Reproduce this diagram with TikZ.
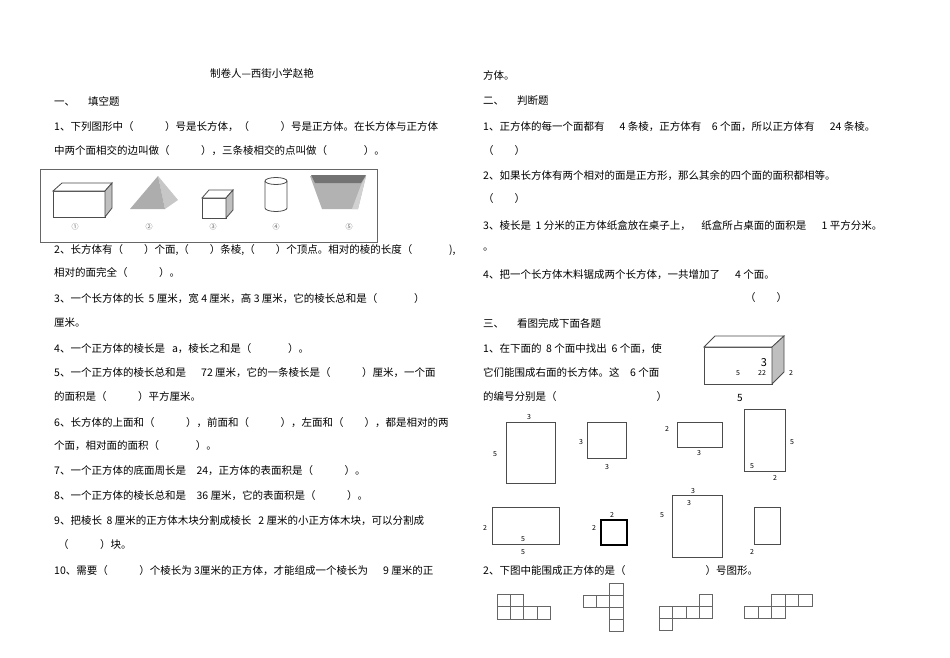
\documentclass[tikz,border=0pt]{standalone}
\usepackage{fontspec}
\setmainfont{Noto Sans CJK SC}
\newcommand\pq[1]{（\hspace{#1em}）}
\begin{document}
\begin{tikzpicture}[x=1pt,y=-1pt,
  txt/.style={anchor=west,inner sep=0pt,font=\fontsize{10.5}{12}\selectfont},
  lab/.style={inner sep=0pt,font=\fontsize{7}{8}\selectfont},
  num/.style={inner sep=0pt,font=\fontsize{7}{8}\selectfont,text=black!60},
  face/.style={draw=black!70,line width=0.8pt,fill=white},
  cell/.style={draw=black!60,line width=0.7pt}]
\useasboundingbox (0,0) rectangle (950,658);
\fill[white] (0,0) rectangle (950,658);
% left column
\node[inner sep=0pt,font=\fontsize{10.5}{12}\selectfont] (title) at (262,73) {制卷人—西街小学赵艳};
\node[txt] (a0) at (54,101) {一、\quad\ 填空题};
\node[txt] (a1) at (54,127) {1、下列图形中\pq{3}号是长方体，\pq{3}号是正方体。在长方体与正方体};
\node[txt] (a2) at (54,151) {中两个面相交的边叫做\pq{3}，三条棱相交的点叫做\pq{3.5}。};
\draw[black!60,line width=0.8pt] (40,169) rectangle (377,242);
% shape 1
\draw[face] (53,191) rectangle (105,217);
\draw[face] (53,191) -- (62,183) -- (112,183) -- (105,191) -- cycle;
\draw[face,fill=black!25] (105,191) -- (112,183) -- (112,208) -- (105,217) -- cycle;
% shape 2
\fill[black!22] (158,176) -- (178,200) -- (165,209) -- cycle;
\fill[black!32] (130,209) -- (158,176) -- (165,209) -- cycle;
% shape 3
\draw[face] (202,198) rectangle (226,218);
\draw[face] (202,198) -- (209,190) -- (233,190) -- (226,198) -- cycle;
\draw[face,fill=black!25] (226,198) -- (233,190) -- (233,210) -- (226,218) -- cycle;
% shape 4
\draw[black!70,line width=0.8pt,fill=white] (265,181) -- (265,208) arc[start angle=180,end angle=0,x radius=11,y radius=3.5] -- (287,181);
\draw[black!70,line width=0.8pt] (276,181) ellipse[x radius=11,y radius=3.5];
% shape 5
\fill[black!30] (310,176) -- (366,176) -- (358,209) -- (322,209) -- cycle;
\fill[black!18] (361,185) -- (366,176) -- (358,209) -- (352,209) -- cycle;
\fill[black!55] (311,175) -- (366,175) -- (361,183) -- (315,183) -- cycle;
\node[num] (c1) at (75,227) {①};
\node[num] (c2) at (149,227) {②};
\node[num] (c3) at (213,227) {③};
\node[num] (c4) at (276,227) {④};
\node[num] (c5) at (349,227) {⑤};
\node[txt] (a3) at (54,250) {2、长方体有\pq{2}个面,\pq{2}条棱,\pq{2}个顶点。相对的棱的长度（\hspace{3.5em}),};
\node[txt] (a4) at (54,273) {相对的面完全\pq{3}。};
\node[txt] (a5) at (54,299) {3、一个长方体的长\ \ 5 厘米，宽\ 4 厘米，高\ 3 厘米，它的棱长总和是\pq{3.5}};
\node[txt] (a6) at (54,323) {厘米。};
\node[txt] (a7) at (54,349) {4、一个正方体的棱长是\ \ \ a，棱长之和是\pq{3.5}。};
\node[txt] (a8) at (54,373) {5、一个正方体的棱长总和是\quad\ \ 72 厘米，它的一条棱长是\pq{3}厘米，一个面};
\node[txt] (a9) at (54,397) {的面积是\pq{3}平方厘米。};
\node[txt] (a10) at (54,423) {6、长方体的上面和\pq{3}，前面和\pq{3}，左面和\pq{2}，都是相对的两};
\node[txt] (a11) at (54,446) {个面，相对面的面积\pq{3.5}。};
\node[txt] (a12) at (54,471) {7、一个正方体的底面周长是\quad 24，正方体的表面积是\pq{3}。};
\node[txt] (a13) at (54,496) {8、一个正方体的棱长总和是\quad 36 厘米，它的表面积是\pq{3}。};
\node[txt] (a14) at (54,521) {9、把棱长\ \ 8 厘米的正方体木块分割成棱长\ \ \ 2 厘米的小正方体木块，可以分割成};
\node[txt] (a15) at (58,545) {\pq{3}块。};
\node[txt] (a16) at (54,571) {10、需要\pq{3}个棱长为\ 3厘米的正方体，才能组成一个棱长为\quad\ \ 9 厘米的正};
% right column
\node[txt] (b0) at (483,75) {方体。};
\node[txt] (b1) at (483,101) {二、\quad\ 判断题};
\node[txt] (b2) at (483,127) {1、正方体的每一个面都有\quad\ \ 4 条棱，正方体有\quad 6 个面，所以正方体有\quad\ \ 24 条棱。};
\node[txt] (b3) at (483,151) {\pq{2}};
\node[txt] (b4) at (483,176) {2、如果长方体有两个相对的面是正方形，那么其余的四个面的面积都相等。};
\node[txt] (b5) at (483,199) {\pq{2}};
\node[txt] (b6) at (483,226) {3、棱长是\ \ 1 分米的正方体纸盒放在桌子上，\quad 纸盒所占桌面的面积是\quad\ \ 1 平方分米。};
\node[txt] (b7) at (483,250) {。};
\node[txt] (b8) at (483,275) {4、把一个长方体木料锯成两个长方体，一共增加了\quad\ \ 4 个面。};
\node[txt] (b9) at (745,298) {\pq{2}};
\node[txt] (b10) at (483,323) {三、\quad\ 看图完成下面各题};
\node[txt] (b11) at (483,349) {1、在下面的\ \ 8 个面中找出\ \ 6 个面，使};
\node[txt] (b12) at (483,373) {它们能围成右面的长方体。这\quad 6 个面};
\node[txt] (b13) at (483,397) {的编号分别是（\hspace{100pt}）};
\node[txt] (b14) at (483,571) {2、下图中能围成正方体的是（\hspace{80pt}）号图形。};
% cuboid
\draw[face] (704,347) rectangle (772,384);
\draw[face] (704,347) -- (715,336) -- (784,336) -- (772,347) -- cycle;
\draw[face,fill=black!25] (772,347) -- (784,336) -- (784,372) -- (772,384) -- cycle;
\node[inner sep=0pt,font=\fontsize{11}{12}\selectfont] (q3) at (764,363) {3};
\node[lab] (q5) at (738,373) {5};
\node[lab] (q22) at (762,373) {22};
\node[lab] (q2) at (791,373) {2};
\node[inner sep=0pt,font=\fontsize{10}{12}\selectfont] (q5b) at (740,398) {5};
% rectangles
\draw[face] (506,422) rectangle (555,483);
\node[lab] (r1a) at (529,417) {3}; \node[lab] (r1b) at (495,454) {5};
\draw[face] (587,422) rectangle (626,458);
\node[lab] (r2a) at (581,442) {3}; \node[lab] (r2b) at (607,467) {3};
\draw[face] (677,422) rectangle (722,447);
\node[lab] (r3a) at (667,429) {2}; \node[lab] (r3b) at (699,453) {3};
\draw[face] (744,409) rectangle (785,471);
\node[lab] (r4a) at (792,442) {5}; \node[lab] (r4b) at (752,466) {5}; \node[lab] (r4c) at (775,478) {2};
\draw[face] (492,507) rectangle (559,544);
\node[lab] (r5a) at (485,528) {2}; \node[lab] (r5b) at (523,539) {5}; \node[lab] (r5c) at (523,552) {5};
\draw[face,line width=1.1pt,draw=black] (601,520) rectangle (627,545);
\node[lab] (r6a) at (612,515) {2}; \node[lab] (r6b) at (594,528) {2};
\draw[face] (672,495) rectangle (722,557);
\node[lab] (r7a) at (693,491) {3}; \node[lab] (r7b) at (689,503) {3}; \node[lab] (r7c) at (662,515) {5};
\draw[face] (754,507) rectangle (780,544);
\node[lab] (r8a) at (752,552) {2};
% nets
\foreach \i in {0,1} \draw[cell] (497+13.3*\i,594) rectangle ++(13.3,12.5);
\foreach \i in {0,...,3} \draw[cell] (497+13.3*\i,606.5) rectangle ++(13.3,12.5);
\foreach \i in {0,1,2} \draw[cell] (583+13.3*\i,595) rectangle ++(13.3,12);
\foreach \j in {-1,1,2} \draw[cell] (609.6,595+12*\j) rectangle ++(13.3,12);
\draw[cell] (699,594) rectangle ++(13.3,12);
\foreach \i in {0,...,3} \draw[cell] (659.5+13.3*\i,606) rectangle ++(13.3,12);
\draw[cell] (659.5,618) rectangle ++(13.3,12.5);
\foreach \i in {0,1,2} \draw[cell] (771.6+13.5*\i,594) rectangle ++(13.5,12);
\foreach \i in {0,1,2} \draw[cell] (744.6+13.5*\i,606) rectangle ++(13.5,12);
\end{tikzpicture}
\end{document}
